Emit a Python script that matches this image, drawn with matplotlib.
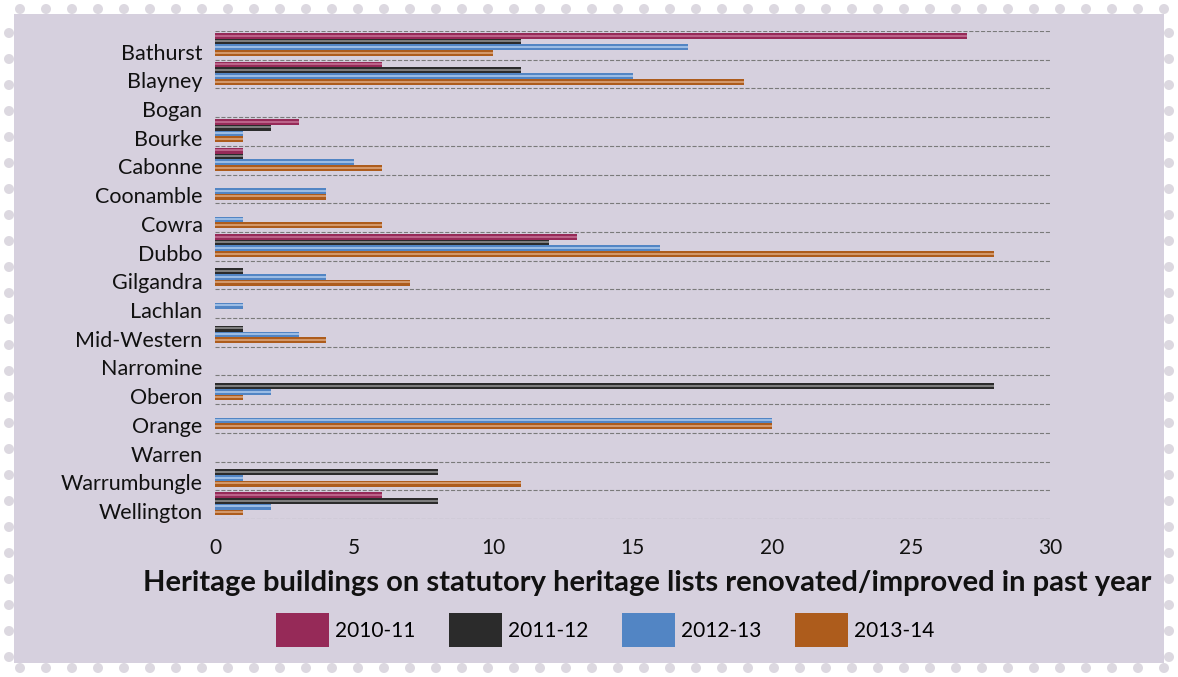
# Heritage buildings renovated/improved, by council, four financial years.
import numpy as np
import matplotlib.pyplot as plt
from matplotlib.patches import Rectangle, Circle

plt.rcParams["font.family"] = ["Lato", "DejaVu Sans"]

councils = ["Bathurst", "Blayney", "Bogan", "Bourke", "Cabonne", "Coonamble",
            "Cowra", "Dubbo", "Gilgandra", "Lachlan", "Mid-Western",
            "Narromine", "Oberon", "Orange", "Warren", "Warrumbungle",
            "Wellington"]
years = ["2010-11", "2011-12", "2012-13", "2013-14"]

v_2010_11 = [27, 6, 0, 3, 1, 0, 0, 13, 0, 0, 0, 0, 0, 0, 0, 0, 6]
v_2011_12 = [11, 11, 0, 2, 1, 0, 0, 12, 1, 0, 1, 0, 28, 0, 0, 8, 8]
v_2012_13 = [17, 15, 0, 1, 5, 4, 1, 16, 4, 1, 3, 0, 2, 20, 0, 1, 2]
v_2013_14 = [10, 19, 0, 1, 6, 4, 6, 28, 7, 0, 4, 0, 1, 20, 0, 11, 1]
x_ticks = [0, 5, 10, 15, 20, 25, 30]

series = [v_2010_11, v_2011_12, v_2012_13, v_2013_14]
dark = ["#962a58", "#2b2b2b", "#5285c4", "#ad5c1c"]
light = ["#c8779a", "#9a9a9a", "#b4cff0", "#e0ad85"]
BG = "#d6d0de"

W, H = 1178, 677
fig = plt.figure(figsize=(W / 100, H / 100), dpi=100, facecolor="white")

# stamp-like panel with perforated edge
fig.add_artist(Rectangle((14 / W, 14 / H), (W - 28) / W, (H - 28) / H,
                         transform=fig.transFigure, facecolor=BG,
                         edgecolor="none", zorder=0))
for px in np.arange(20, W - 10, 26):
    for py in (9, H - 9):
        fig.add_artist(Circle((px / 100, py / 100), 0.05,
                              transform=fig.dpi_scale_trans,
                              facecolor="#dcd8e0", edgecolor="none", zorder=0))
for py in np.arange(20, H - 10, 26):
    for px in (9, W - 9):
        fig.add_artist(Circle((px / 100, py / 100), 0.05,
                              transform=fig.dpi_scale_trans,
                              facecolor="#dcd8e0", edgecolor="none", zorder=0))

ax = fig.add_axes([215 / W, 1 - 519 / H, (1050 - 215) / W, (519 - 31) / H])
ax.set_facecolor("none")

y = np.arange(len(councils))
bh = 0.2
handles = []
for k, (vals, label) in enumerate(zip(series, years)):
    pos = y - 0.03 + (k - 1.5) * bh
    b = ax.barh(pos, vals, height=bh, color=dark[k], edgecolor="none",
                label=label, zorder=3)
    # lighter sheen through the middle of each bar
    ax.barh(pos - 0.01, vals, height=bh * 0.35, color=light[k],
            edgecolor="none", alpha=0.75, zorder=4)
    handles.append(b)

ax.set_xlim(0, 30)
ax.set_ylim(len(councils) - 0.5, -0.5)
ax.set_xticks(x_ticks)
ax.set_xticklabels([str(t) for t in x_ticks], fontsize=15, color="#111111")
ax.set_yticks(y + 0.22)
ax.set_yticklabels(councils, fontsize=15.5, color="#111111")
ax.set_yticks(np.arange(-0.5, len(councils), 1), minor=True)
ax.tick_params(axis="both", which="both", length=0)
ax.tick_params(axis="x", pad=14)
ax.tick_params(axis="y", pad=9)
ax.grid(True, which="minor", axis="y", linestyle="--", color="#7a7a7a",
        linewidth=0.8, zorder=1)
for s in ax.spines.values():
    s.set_visible(False)

fig.text(647 / W, 1 - 583 / H,
         "Heritage buildings on statutory heritage lists renovated/improved in past year",
         ha="center", va="center", fontsize=21, fontweight="bold", color="#111111")

fig.legend(handles, years, loc="center", bbox_to_anchor=(605 / W, 1 - 630 / H),
           ncol=4, frameon=False, fontsize=15, handlelength=2.55,
           handleheight=2.2, handletextpad=0.3, columnspacing=1.6)

plt.savefig("out.png", dpi=100, facecolor=fig.get_facecolor())
